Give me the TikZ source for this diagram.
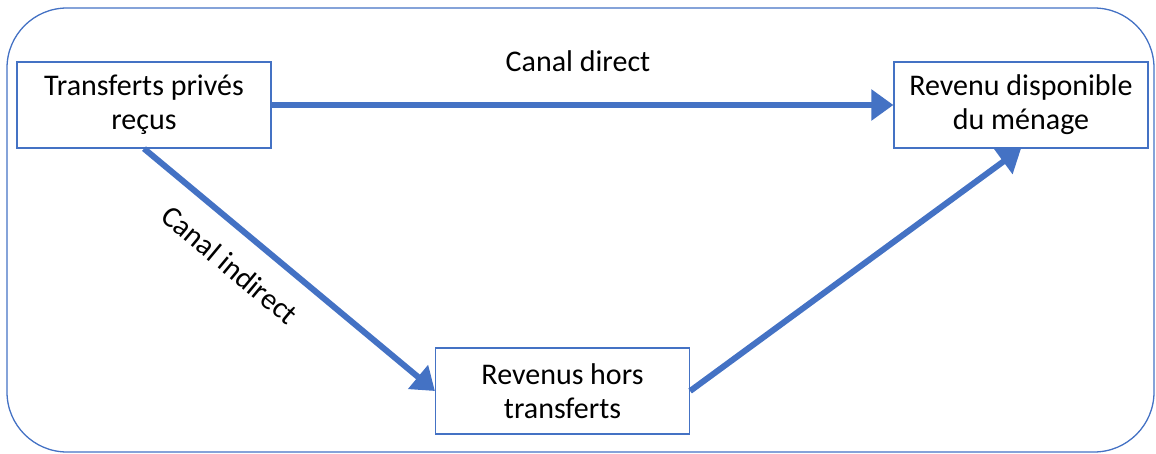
\documentclass[tikz,border=0pt]{standalone}
\usepackage{fontspec}
\setmainfont{Carlito}
\usepackage{tikz}
\usetikzlibrary{arrows.meta,positioning}
\definecolor{officeblue}{RGB}{68,114,196}
\tikzset{
    box/.style={draw=officeblue, line width=1.2, fill=white, minimum width=254, minimum height=86,
                align=center, inner sep=0pt, font=\fontsize{30}{34}\selectfont},
    channel/.style={draw=officeblue, line width=6,
                -{Triangle[length=22pt,width=30pt]}, shorten >=0pt},
    label/.style={font=\fontsize{30}{34}\selectfont}
}
\begin{document}
\begin{tikzpicture}[x=1pt,y=1pt,yscale=-1,xscale=1]
		%set diagram left start at 0, and has height of 454
		\useasboundingbox (0,0) rectangle (1156,454);
		
		% Outer frame
		\draw [officeblue, line width=1.3, rounded corners=60] (7,8) rectangle (1154,452);
		
		% Boxes
		\node [box] (recus) at (144,105) {Transferts privés\\reçus};
		\node [box] (menage) at (1021,105) {Revenu disponible\\du ménage};
		\node [box] (hors) at (562.5,391) {Revenus hors\\transferts};
		
		% Channels
		\draw [channel] (recus.east) -- (menage.west);
		\draw [channel] (recus.south) -- (hors.west);
		\draw [channel] (hors.east) -- (menage.south);
		
		% Text Node
		\node [label] (direct) at (578,61) {Canal direct};
		\node [label, rotate=-39.8] (indirect) at (230,265) {Canal indirect};
		
\end{tikzpicture}
\end{document}
